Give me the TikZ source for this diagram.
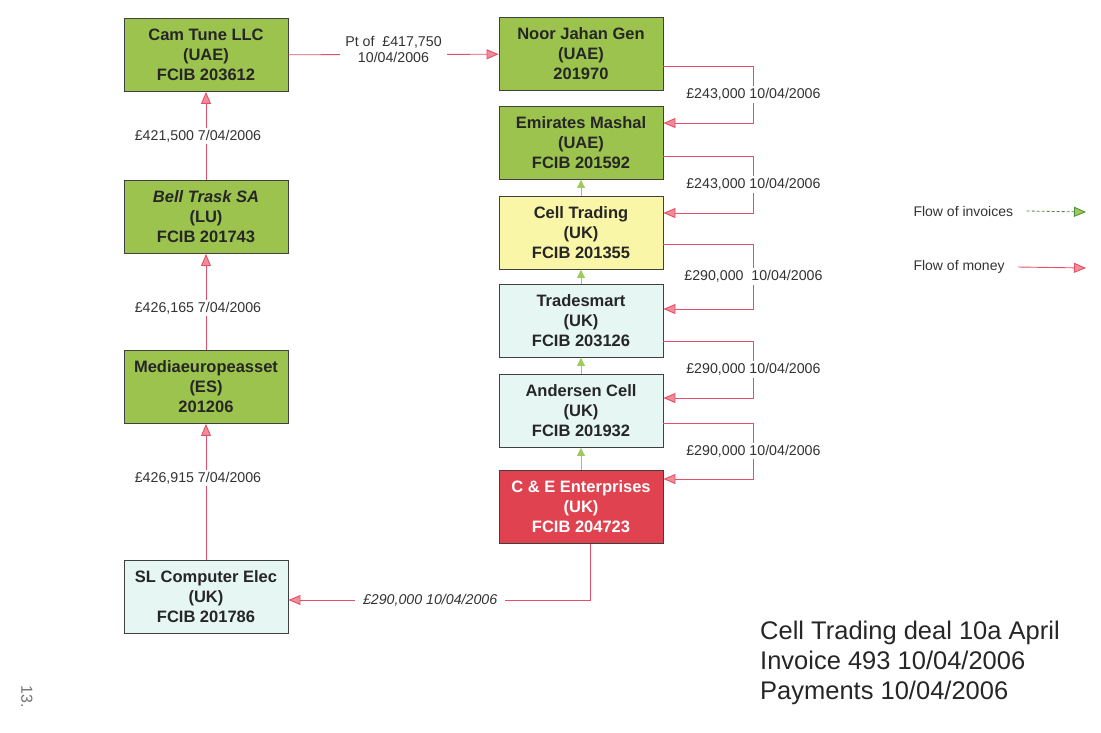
\documentclass[tikz,border=0pt]{standalone}
\usepackage{fontspec}
\setmainfont{Liberation Sans}
\usetikzlibrary{arrows.meta,positioning}

\definecolor{boxgreen}{HTML}{9CC34E}
\definecolor{boxyellow}{HTML}{FAF6A8}
\definecolor{boxblue}{HTML}{E6F6F3}
\definecolor{boxred}{HTML}{E0434F}
\definecolor{moneyred}{HTML}{E4506A}
\definecolor{moneyhead}{HTML}{F08C96}
\definecolor{invgreen}{HTML}{9CCB5A}
\definecolor{invdark}{HTML}{4E8A3A}

\begin{document}
\begin{tikzpicture}[x=1pt, y=-1pt,
  block/.style={draw=black!75, line width=0.9pt, minimum width=164pt,
    minimum height=73pt, align=center, text=black!85,
    font=\fontsize{16.5}{20}\selectfont\bfseries},
  money/.style={draw=moneyred, line width=0.9pt,
    -{Triangle[length=12pt,width=10pt,fill=moneyhead]}},
  invoice/.style={draw=invgreen, line width=0.9pt,
    -{Triangle[length=8pt,width=8pt,fill=invgreen]}},
  amount/.style={fill=white, inner sep=2pt, text=black!80,
    font=\fontsize{14.2}{16}\selectfont}
]
  \useasboundingbox (0,0) rectangle (1101,732);

  % Blocks, left column
  \node[block, fill=boxgreen] (cam) at (206,55) {Cam Tune LLC\\(UAE)\\FCIB 203612};
  \node[block, fill=boxgreen] (bell) at (206,217) {\itshape Bell Trask SA\\(LU)\\FCIB 201743};
  \node[block, fill=boxgreen] (med) at (206,387) {Mediaeuropeasset\\(ES)\\201206};
  \node[block, fill=boxblue] (sl) at (206,597) {SL Computer Elec\\(UK)\\FCIB 201786};

  % Blocks, right column
  \node[block, fill=boxgreen] (noor) at (581,54) {Noor Jahan Gen\\(UAE)\\201970};
  \node[block, fill=boxgreen] (emir) at (581,143) {Emirates Mashal\\(UAE)\\FCIB 201592};
  \node[block, fill=boxyellow] (cell) at (581,233) {Cell Trading\\(UK)\\FCIB 201355};
  \node[block, fill=boxblue] (trad) at (581,321) {Tradesmart\\(UK)\\FCIB 203126};
  \node[block, fill=boxblue] (ande) at (581,411) {Andersen Cell\\(UK)\\FCIB 201932};
  \node[block, fill=boxred, text=white] (ce) at (581,507) {C \& E Enterprises\\(UK)\\FCIB 204723};

  % Money, left column
  \draw[money] (sl) -- (med) node[amount, pos=0.6, xshift=-8pt] {£426,915 7/04/2006};
  \draw[money] (med) -- (bell) node[amount, pos=0.44, xshift=-8pt] {£426,165 7/04/2006};
  \draw[money] (bell) -- (cam) node[amount, midway, xshift=-8pt] {£421,500 7/04/2006};
  \draw[money] (cam) -- (noor) node[amount, midway, yshift=5pt, align=center, inner xsep=5pt]
    {Pt of \ £417,750\\10/04/2006};

  % Money, right column
  \draw[money] ([yshift=-12pt]noor.east) -- ++(90,0)
    |- node[amount, pos=0.25] {£243,000 10/04/2006} ([yshift=20pt]emir.east);
  \draw[money] ([yshift=-13pt]emir.east) -- ++(90,0)
    |- node[amount, pos=0.25] {£243,000 10/04/2006} ([yshift=20pt]cell.east);
  \draw[money] ([yshift=-11pt]cell.east) -- ++(90,0)
    |- node[amount, pos=0.25] {£290,000 \ 10/04/2006} ([yshift=12pt]trad.east);
  \draw[money] ([yshift=-20pt]trad.east) -- ++(90,0)
    |- node[amount, pos=0.25] {£290,000 10/04/2006} ([yshift=13pt]ande.east);
  \draw[money] ([yshift=-12pt]ande.east) -- ++(90,0)
    |- node[amount, pos=0.25] {£290,000 10/04/2006} ([yshift=28pt]ce.east);
  \draw[money] ([xshift=9pt]ce.south) |- node[amount, pos=0.765, inner xsep=8pt,
    font=\fontsize{14.2}{16}\selectfont\itshape] {£290,000 10/04/2006} ([yshift=-3pt]sl.east);

  % Invoices
  \draw[invoice] (ce) -- (ande);
  \draw[invoice] (ande) -- (trad);
  \draw[invoice] (trad) -- (cell);
  \draw[invoice] (cell) -- (emir);

  % Legend
  \node[anchor=west, text=black!80, font=\fontsize{14}{16}\selectfont] (invlbl) at (910,211) {Flow of invoices};
  \node[anchor=west, text=black!80, font=\fontsize{14}{16}\selectfont] (monlbl) at (910,267) {Flow of money};
  \coordinate (invend) at (1086,212);
  \coordinate (monend) at (1086,268);
  \draw[draw=invdark, line width=0.8pt, densely dashed,
    -{Triangle[length=12pt,width=10pt,fill=invgreen]}] ([xshift=10pt]invlbl.east) -- (invend);
  \draw[money] ([xshift=10pt]monlbl.east) -- (monend);

  % Note
  \node[anchor=north west, align=left, inner sep=0pt, text=black!85,
    font=\fontsize{25.5}{30}\selectfont] (note) at (760,621)
    {Cell Trading deal 10a April\\Invoice 493 10/04/2006\\Payments 10/04/2006};
  \node[rotate=-90, text=black!55, font=\fontsize{16}{16}\selectfont] (pgno) at (27,697) {13.};
\end{tikzpicture}
\end{document}
